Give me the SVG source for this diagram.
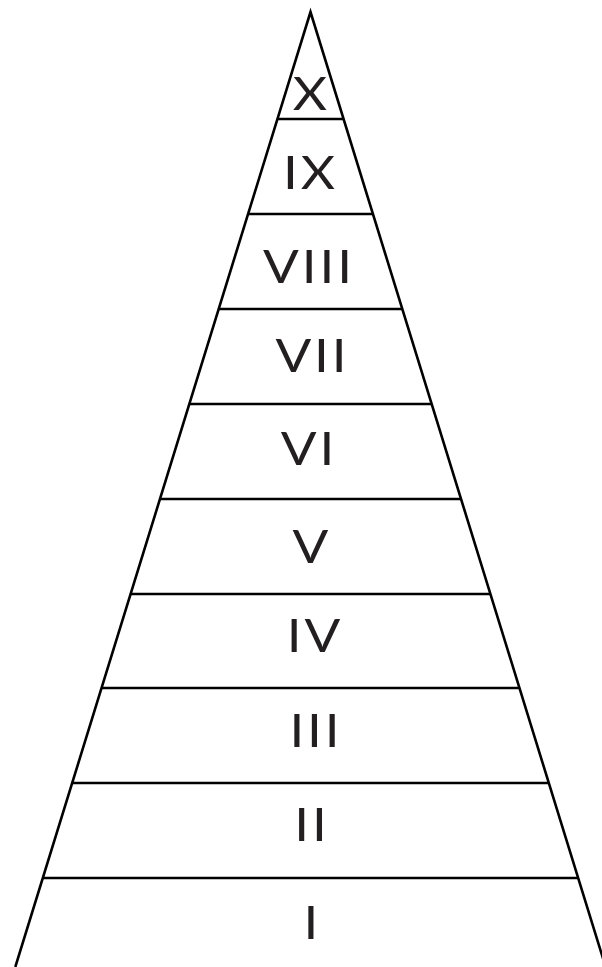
<svg xmlns="http://www.w3.org/2000/svg" width="602" height="967" viewBox="0 0 602 967">
<style>
.edge{fill:none;stroke:#000;stroke-width:2.6;stroke-linejoin:miter}
.sep{stroke:#000;stroke-width:2.6}
.lbl{font-family:"Lato","Liberation Sans",sans-serif;font-size:46px;font-weight:400;fill:#231f20;text-anchor:middle;letter-spacing:2.5px}
</style>
<rect width="602" height="967" fill="#fff"/>
<g id="outline">
<path class="edge" d="M15.3,967 L310.5,12 L605.7,967"/>
</g>
<g id="separators">
<line class="sep" x1="277.4" y1="119" x2="343.6" y2="119"/>
<line class="sep" x1="248.1" y1="214" x2="372.9" y2="214"/>
<line class="sep" x1="218.7" y1="309" x2="402.3" y2="309"/>
<line class="sep" x1="189.3" y1="404" x2="431.7" y2="404"/>
<line class="sep" x1="160.0" y1="499" x2="461.0" y2="499"/>
<line class="sep" x1="130.6" y1="594" x2="490.4" y2="594"/>
<line class="sep" x1="101.6" y1="688" x2="519.4" y2="688"/>
<line class="sep" x1="72.2" y1="783" x2="548.8" y2="783"/>
<line class="sep" x1="42.8" y1="878" x2="578.2" y2="878"/>
</g>
<g id="tier-X" transform="translate(310,110) scale(1.15,1)"><text class="lbl" x="1.25" y="0">X</text></g>
<g id="tier-IX" transform="translate(309,189) scale(1.15,1)"><text class="lbl" x="1.25" y="0">IX</text></g>
<g id="tier-VIII" transform="translate(307.5,283) scale(1.15,1)"><text class="lbl" x="1.25" y="0">VIII</text></g>
<g id="tier-VII" transform="translate(311,372) scale(1.15,1)"><text class="lbl" x="1.25" y="0">VII</text></g>
<g id="tier-VI" transform="translate(307.5,465) scale(1.15,1)"><text class="lbl" x="1.25" y="0">VI</text></g>
<g id="tier-V" transform="translate(310.5,563) scale(1.15,1)"><text class="lbl" x="1.25" y="0">V</text></g>
<g id="tier-IV" transform="translate(313.5,652) scale(1.15,1)"><text class="lbl" x="1.25" y="0">IV</text></g>
<g id="tier-III" transform="translate(314.5,747) scale(1.15,1)"><text class="lbl" x="1.25" y="0">III</text></g>
<g id="tier-II" transform="translate(310.5,841) scale(1.15,1)"><text class="lbl" x="1.25" y="0">II</text></g>
<g id="tier-I" transform="translate(311,939) scale(1.15,1)"><text class="lbl" x="1.25" y="0">I</text></g>
</svg>
